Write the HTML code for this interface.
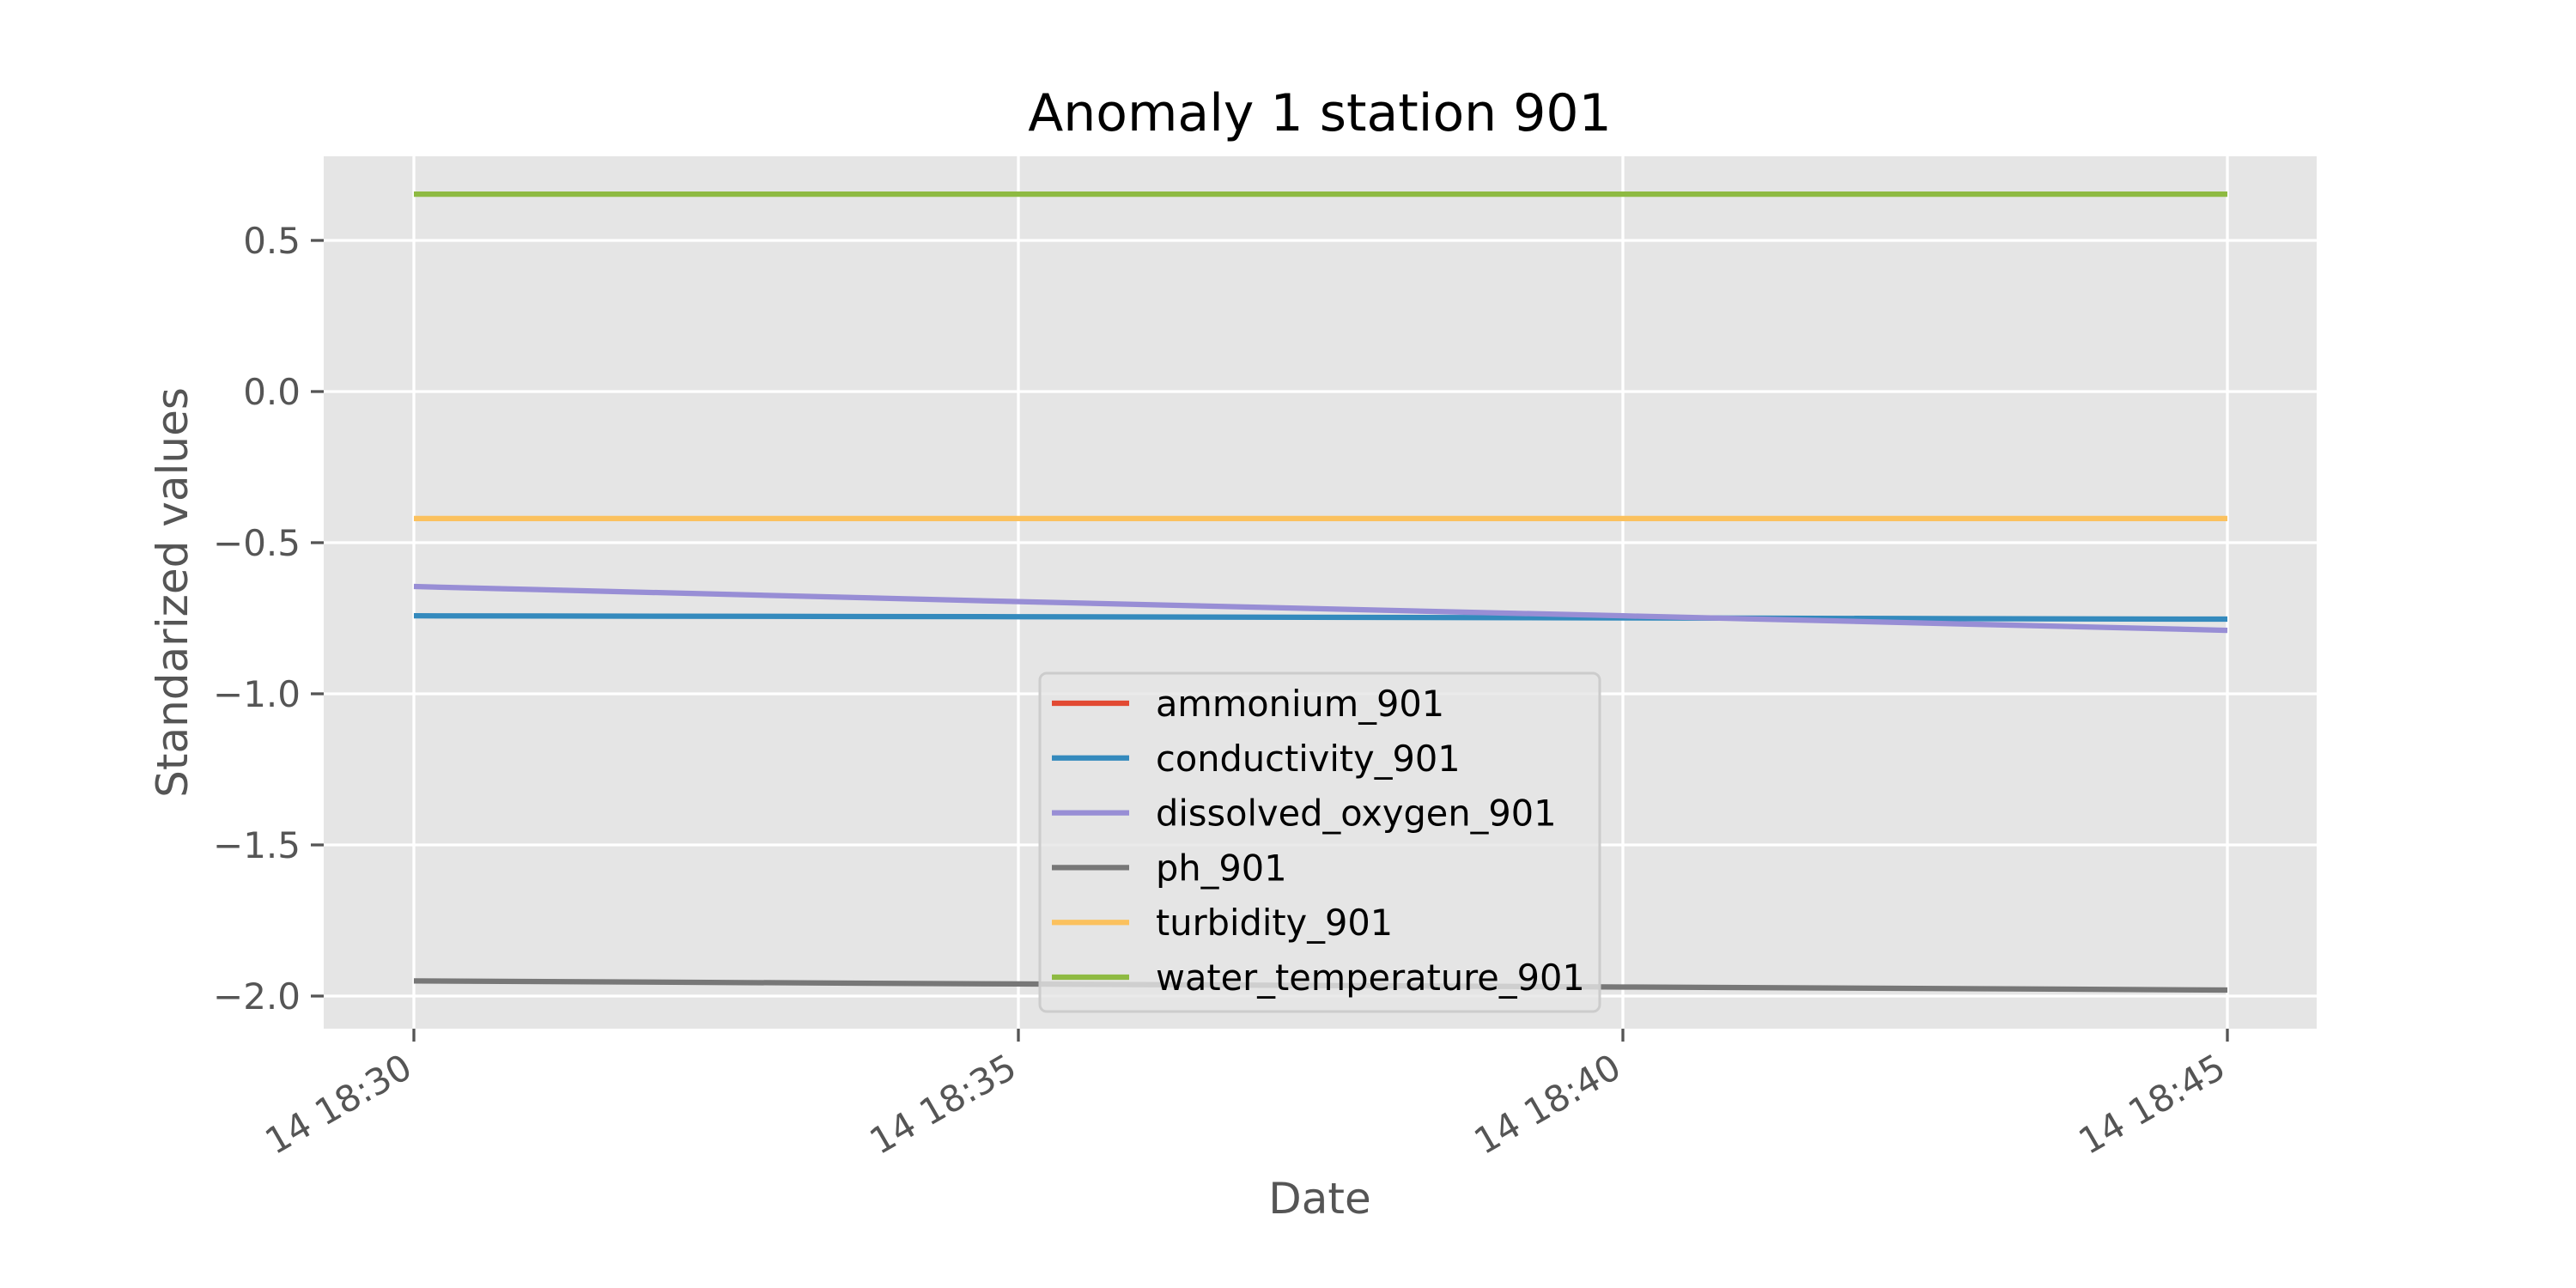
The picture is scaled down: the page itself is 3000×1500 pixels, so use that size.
<!DOCTYPE html>
<html><head><meta charset="utf-8"><style>
html,body{margin:0;padding:0;background:#fff;}
svg{display:block;font-family:"DejaVu Sans","Liberation Sans",sans-serif;}
</style></head><body>
<svg id="chart" width="3000" height="1500" viewBox="0 0 3000 1500" xmlns="http://www.w3.org/2000/svg">
<rect x="0" y="0" width="3000" height="1500" fill="#fff"/>
<rect x="377" y="182" width="2321" height="1016" fill="#e5e5e5"/>
<g id="grid"></g>
<g id="series"></g>
<g id="axes"></g>
<text x="1537" y="152" font-size="60" text-anchor="middle" fill="#000">Anomaly 1 station 901</text>
<text x="1537" y="1413" font-size="50" text-anchor="middle" fill="#555">Date</text>
<text transform="translate(218,690) rotate(-90)" font-size="50" text-anchor="middle" fill="#555">Standarized values</text>
<g id="legend"></g>
</svg>
<script>
const timeLabels = ["14 18:30","14 18:35","14 18:40","14 18:45"];
const xTickMinutes = [0,5,10,15];
const pointMinutes = [0,5,10,15];
const yTicks = [0.5,0.0,-0.5,-1.0,-1.5,-2.0];
const yTickLabels = ["0.5","0.0","\u22120.5","\u22121.0","\u22121.5","\u22122.0"];
const seriesNames = ["ammonium_901","conductivity_901","dissolved_oxygen_901","ph_901","turbidity_901","water_temperature_901"];
const seriesColors = ["#E24A33","#348ABD","#988ED5","#777777","#FBC15E","#8EBA42"];
const ammonium = [null,null,null,null];
const conductivity = [-0.742,-0.745,-0.749,-0.753];
const dissolvedOxygen = [-0.645,-0.695,-0.742,-0.79];
const ph = [-1.95,-1.96,-1.97,-1.98];
const turbidity = [-0.42,-0.42,-0.42,-0.42];
const waterTemperature = [0.653,0.653,0.653,0.653];
const allSeries = [ammonium,conductivity,dissolvedOxygen,ph,turbidity,waterTemperature];

const NS="http://www.w3.org/2000/svg";
const X0=482, X1=2594, Y0=456, PXU=352;
function xScale(m){return X0+(m-0)*(X1-X0)/15;}
function yScale(v){return Y0-v*PXU;}
function mk(tag,attrs,parent){const e=document.createElementNS(NS,tag);for(const k in attrs)e.setAttribute(k,attrs[k]);parent.appendChild(e);return e;}
const grid=document.getElementById('grid'),axes=document.getElementById('axes'),ser=document.getElementById('series'),leg=document.getElementById('legend');

yTicks.forEach((v,i)=>{
  const y=yScale(v);
  const g=mk('line',{x1:377,x2:2698,y1:y,y2:y,stroke:'#fff','stroke-width':3.3},grid);
  
  
  const t=mk('line',{x1:362,x2:377,y1:y,y2:y,stroke:'#555','stroke-width':3.3},axes);
  
  
  const l=mk('text',{x:350,y:y+15,'font-size':42,'text-anchor':'end',fill:'#555'},axes);
  l.textContent=yTickLabels[i];
  
  
});
xTickMinutes.forEach((m,i)=>{
  const x=xScale(m);
  const g=mk('line',{x1:x,x2:x,y1:182,y2:1198,stroke:'#fff','stroke-width':3.3},grid);
  
  
  const t=mk('line',{x1:x,x2:x,y1:1198,y2:1213,stroke:'#555','stroke-width':3.3},axes);
  
  
  const l=mk('text',{transform:`translate(${x-14},1226) rotate(-30)`,'font-size':42,'text-anchor':'end',fill:'#555',dy:'0.7em'},axes);
  l.textContent=timeLabels[i];
  
  
});
allSeries.forEach((s,i)=>{
  const pts=[];
  s.forEach((v,j)=>{if(v!==null)pts.push(xScale(pointMinutes[j])+','+yScale(v));});
  if(pts.length<2)return;
  const p=mk('polyline',{points:pts.join(' '),fill:'none',stroke:seriesColors[i],'stroke-width':6.25},ser);
  
  
});
const box=mk('rect',{x:1211,y:784,width:652,height:394,rx:8,fill:'#e5e5e5','fill-opacity':0.8,stroke:'#cccccc','stroke-width':3},leg);


seriesNames.forEach((n,i)=>{
  const y=819+i*63.8;
  const ln=mk('line',{x1:1225,x2:1315,y1:y,y2:y,stroke:seriesColors[i],'stroke-width':6.25},leg);
  
  
  const t=mk('text',{x:1346,y:y+15,'font-size':41.5,fill:'#000'},leg);
  t.textContent=n;
  
  
});
</script>
</body></html>
